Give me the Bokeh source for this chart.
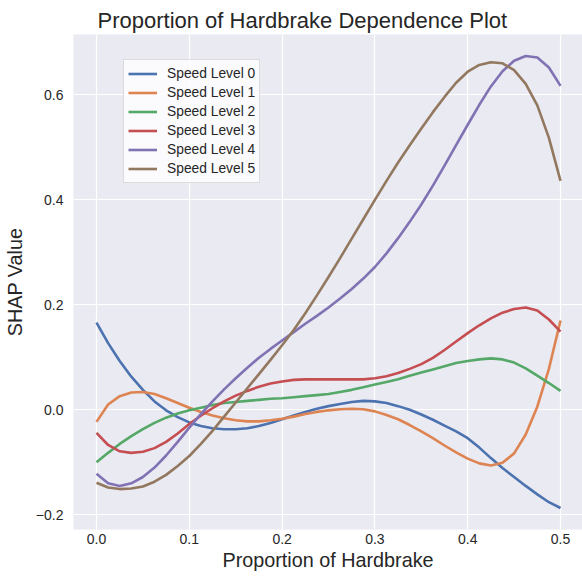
from bokeh.plotting import figure
from bokeh.models import Range1d, FixedTicker, Legend, LegendItem
from bokeh.embed import file_html
from bokeh.resources import INLINE

# ---------------- data ----------------
hardbrake = [0.0, 0.0125, 0.025, 0.0375, 0.05, 0.0625, 0.075, 0.0875, 0.1, 0.1125,
             0.125, 0.1375, 0.15, 0.1625, 0.175, 0.1875, 0.2, 0.2125, 0.225, 0.2375,
             0.25, 0.2625, 0.275, 0.2875, 0.3, 0.3125, 0.325, 0.3375, 0.35, 0.3625,
             0.375, 0.3875, 0.4, 0.4125, 0.425, 0.4375, 0.45, 0.4625, 0.475, 0.4875, 0.5]

level0 = [0.166, 0.127, 0.093, 0.063, 0.038, 0.016, -0.001, -0.014, -0.024, -0.031,
          -0.035, -0.037, -0.037, -0.035, -0.031, -0.025, -0.018, -0.011, -0.004, 0.002,
          0.007, 0.011, 0.015, 0.017, 0.016, 0.013, 0.007, 0.000, -0.009, -0.019,
          -0.030, -0.041, -0.054, -0.072, -0.092, -0.111, -0.128, -0.145, -0.161, -0.176, -0.187]

level1 = [-0.023, 0.010, 0.026, 0.033, 0.034, 0.030, 0.022, 0.013, 0.004, -0.004,
          -0.011, -0.016, -0.020, -0.022, -0.022, -0.020, -0.017, -0.013, -0.008, -0.004,
          -0.001, 0.001, 0.002, 0.001, -0.003, -0.010, -0.018, -0.029, -0.041, -0.054,
          -0.068, -0.081, -0.093, -0.102, -0.106, -0.101, -0.083, -0.047, 0.006, 0.078, 0.170]

level2 = [-0.100, -0.082, -0.065, -0.050, -0.037, -0.025, -0.015, -0.007, -0.001, 0.004,
          0.009, 0.013, 0.015, 0.017, 0.019, 0.021, 0.022, 0.024, 0.026, 0.028,
          0.030, 0.034, 0.038, 0.043, 0.048, 0.053, 0.058, 0.065, 0.071, 0.077,
          0.083, 0.089, 0.093, 0.096, 0.098, 0.096, 0.090, 0.079, 0.065, 0.051, 0.036]

level3 = [-0.044, -0.067, -0.079, -0.082, -0.080, -0.073, -0.061, -0.045, -0.027, -0.011,
          0.003, 0.016, 0.027, 0.036, 0.044, 0.050, 0.054, 0.057, 0.058, 0.058,
          0.058, 0.058, 0.058, 0.058, 0.060, 0.064, 0.070, 0.078, 0.087, 0.099,
          0.114, 0.130, 0.146, 0.161, 0.174, 0.185, 0.192, 0.195, 0.189, 0.172, 0.149]

level4 = [-0.122, -0.140, -0.145, -0.140, -0.128, -0.110, -0.087, -0.061, -0.034, -0.008,
          0.016, 0.039, 0.060, 0.080, 0.099, 0.116, 0.132, 0.148, 0.164, 0.179,
          0.195, 0.212, 0.230, 0.250, 0.272, 0.298, 0.327, 0.358, 0.391, 0.427,
          0.465, 0.504, 0.543, 0.581, 0.616, 0.645, 0.665, 0.674, 0.671, 0.652, 0.617]

level5 = [-0.139, -0.148, -0.151, -0.150, -0.146, -0.137, -0.124, -0.107, -0.088, -0.065,
          -0.040, -0.013, 0.014, 0.041, 0.068, 0.095, 0.123, 0.152, 0.184, 0.218,
          0.253, 0.289, 0.326, 0.363, 0.400, 0.436, 0.471, 0.504, 0.536, 0.567,
          0.596, 0.623, 0.644, 0.657, 0.662, 0.660, 0.647, 0.621, 0.580, 0.518, 0.436]

series_names = ["Speed Level 0", "Speed Level 1", "Speed Level 2",
                "Speed Level 3", "Speed Level 4", "Speed Level 5"]
series_values = [level0, level1, level2, level3, level4, level5]
series_colors = ["#4C72B0", "#DD8452", "#55A868", "#C44E52", "#8172B3", "#937860"]

x_ticks = [0.0, 0.1, 0.2, 0.3, 0.4, 0.5]
x_tick_labels = ["0.0", "0.1", "0.2", "0.3", "0.4", "0.5"]
y_ticks = [-0.2, 0.0, 0.2, 0.4, 0.6]
y_tick_labels = ["\u22120.2", "0.0", "0.2", "0.4", "0.6"]

title_text = "Proportion of Hardbrake Dependence Plot"
x_label = "Proportion of Hardbrake"
y_label = "SHAP Value"

# ---------------- figure ----------------
FONT = "Liberation Sans"
TXT = "#262626"

p = figure(width=582, height=578, output_backend="svg", toolbar_location=None,
           x_range=Range1d(-0.0248, 0.5237), y_range=Range1d(-0.228, 0.7149),
           min_border_left=73, min_border_right=0, min_border_top=34, min_border_bottom=49)

p.background_fill_color = "#EAEAF2"
p.border_fill_color = "white"
p.outline_line_color = None

p.title.text = title_text
p.title.align = "left"
p.title.offset = 24
p.title.standoff = 4
p.title.text_font = FONT
p.title.text_font_size = "22px"
p.title.text_font_style = "normal"
p.title.text_color = TXT

for ax in (p.xaxis[0], p.yaxis[0]):
    ax.axis_line_color = None
    ax.major_tick_line_color = None
    ax.minor_tick_line_color = None
    ax.major_tick_out = 0
    ax.major_tick_in = 0
    ax.major_label_text_font = FONT
    ax.major_label_text_font_size = "14px"
    ax.major_label_text_color = TXT
    ax.axis_label_text_font = FONT
    ax.axis_label_text_font_style = "normal"
    ax.axis_label_text_color = TXT

p.xaxis.axis_label_text_font_size = "19.8px"
p.yaxis.axis_label_text_font_size = "19.8px"
p.xaxis.ticker = FixedTicker(ticks=x_ticks)
p.xaxis.major_label_overrides = dict(zip(x_ticks, x_tick_labels))
p.yaxis.ticker = FixedTicker(ticks=y_ticks)
p.yaxis.major_label_overrides = dict(zip(y_ticks, y_tick_labels))
p.xaxis.axis_label = x_label
p.yaxis.axis_label = y_label
p.xaxis.major_label_standoff = 4
p.yaxis.major_label_standoff = 10
p.xaxis.axis_label_standoff = 2
p.yaxis.axis_label_standoff = 7

p.xgrid.grid_line_color = "white"
p.ygrid.grid_line_color = "white"
p.xgrid.grid_line_width = 1.2
p.ygrid.grid_line_width = 1.2
p.xgrid.ticker = FixedTicker(ticks=x_ticks)
p.ygrid.ticker = FixedTicker(ticks=y_ticks)

items = []
for name, vals, col in zip(series_names, series_values, series_colors):
    r = p.line(hardbrake, vals, line_color=col, line_width=2.6, line_join="round")
    items.append(LegendItem(label=name, renderers=[r]))

legend = Legend(items=items, location=(50, 346))
legend.background_fill_color = "white"
legend.background_fill_alpha = 0.8
legend.border_line_color = "#bbbbbb"
legend.border_line_width = 1
legend.label_text_font = FONT
legend.label_text_font_size = "13.8px"
legend.label_text_color = TXT
legend.glyph_width = 29
legend.glyph_height = 19
legend.label_height = 19
legend.spacing = 0
legend.padding = 4
legend.margin = 0
legend.label_standoff = 10
p.add_layout(legend)

open("out.html", "w").write(file_html(p, INLINE))
